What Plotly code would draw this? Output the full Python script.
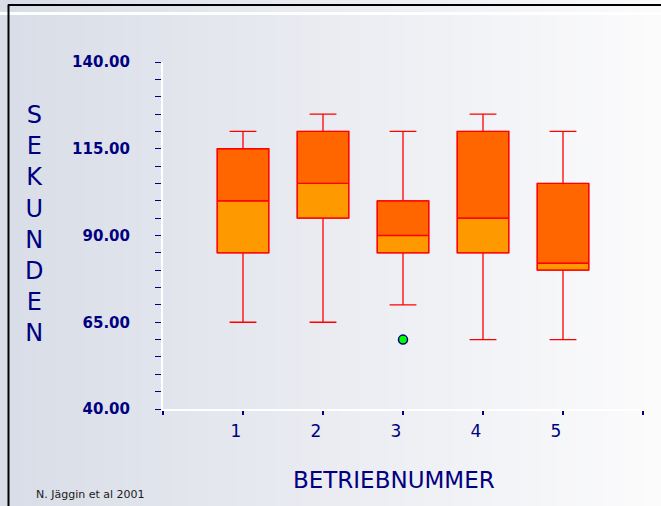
import plotly.graph_objects as go

# Box-plot statistics per farm (seconds)
betriebe = [1, 2, 3, 4, 5]
minimum = [65, 65, 70, 60, 60]
q1 = [85, 95, 85, 85, 80]
median = [100, 105, 90, 95, 82]
q3 = [115, 120, 100, 120, 105]
maximum = [120, 125, 120, 125, 120]
ausreisser_x = [3]
ausreisser_y = [60]

y_ticks = [40, 65, 90, 115, 140]

NAVY = "#000080"
W, H = 661, 506
L, R, T, B = 163, 18, 61.5, 97
pw, ph = W - L - R, H - T - B


def px_x(p):
    return (p - L) / pw


def px_y(p):
    return (H - B - p) / ph


fig = go.Figure()

# lower half of each box (Q1..median)
fig.add_trace(go.Bar(
    x=betriebe, base=q1, y=[m - a for m, a in zip(median, q1)],
    width=0.645, marker=dict(color="#FF9900", line=dict(color="#FF0000", width=1)),
    hoverinfo="skip", showlegend=False))
# upper half of each box (median..Q3)
fig.add_trace(go.Bar(
    x=betriebe, base=median, y=[b - m for b, m in zip(q3, median)],
    width=0.645, marker=dict(color="#FF6600", line=dict(color="#FF0000", width=1)),
    hoverinfo="skip", showlegend=False))
# outlines, medians and whiskers
fig.add_trace(go.Box(
    x=betriebe, q1=q1, median=median, q3=q3,
    lowerfence=minimum, upperfence=maximum,
    width=0.645, whiskerwidth=0.52, boxpoints=False,
    fillcolor="rgba(0,0,0,0)", line=dict(color="#FF0000", width=1.3),
    showlegend=False))
# outlier
fig.add_trace(go.Scatter(
    x=ausreisser_x, y=ausreisser_y, mode="markers",
    marker=dict(size=9, color="#00FF00", line=dict(color=NAVY, width=1.5)),
    showlegend=False))

# horizontal background gradient
shapes = []
n = 70
c0, c1 = (217, 221, 231), (251, 251, 252)
for i in range(n):
    t = i / (n - 1)
    col = "rgb(%d,%d,%d)" % tuple(round(a + (b - a) * t) for a, b in zip(c0, c1))
    shapes.append(dict(type="rect", xref="paper", yref="paper", layer="below",
                       x0=px_x(W * i / n), x1=px_x(W * (i + 1) / n + 0.5),
                       y0=px_y(H + 2), y1=px_y(-2), line=dict(width=0),
                       fillcolor=col))
# frame lines at the top-left
shapes.append(dict(type="line", xref="paper", yref="paper", layer="below",
                   x0=px_x(0), x1=px_x(W + 2), y0=px_y(13), y1=px_y(13),
                   line=dict(color="rgba(255,255,255,0.95)", width=3)))
shapes.append(dict(type="line", xref="paper", yref="paper", layer="below",
                   x0=px_x(8), x1=px_x(W + 2), y0=px_y(4.5), y1=px_y(4.5),
                   line=dict(color="black", width=2)))
shapes.append(dict(type="line", xref="paper", yref="paper", layer="below",
                   x0=px_x(8.5), x1=px_x(8.5), y0=px_y(4), y1=px_y(H + 2),
                   line=dict(color="black", width=2)))

annotations = [
    dict(text="<br>".join("SEKUNDEN"), xref="paper", yref="paper",
         x=px_x(34), y=px_y(224), xanchor="center", yanchor="middle",
         showarrow=False, font=dict(family="DejaVu Sans", size=24, color=NAVY)),
    dict(text="BETRIEBNUMMER", xref="paper", yref="paper",
         x=px_x(393.5), y=px_y(480), xanchor="center", yanchor="middle",
         showarrow=False, font=dict(family="DejaVu Sans", size=23, color=NAVY)),
    dict(text="N. Jäggin et al 2001", xref="paper", yref="paper",
         x=px_x(34), y=px_y(494.5), xanchor="left", yanchor="middle",
         showarrow=False, font=dict(family="DejaVu Sans", size=11, color="#1a1a1a")),
]

fig.update_layout(
    width=W, height=H,
    margin=dict(l=L, r=R, t=T, b=B, pad=0),
    paper_bgcolor="rgb(234,236,241)", plot_bgcolor="rgba(0,0,0,0)",
    barmode="overlay", showlegend=False,
    shapes=shapes, annotations=annotations,
    xaxis=dict(range=[0, 6], tickvals=[0] + betriebe + [6],
               ticktext=[""] + [str(b) for b in betriebe] + [""],
               showgrid=False, zeroline=False,
               showline=True, linecolor="white", linewidth=2,
               ticks="outside", ticklen=4, tickwidth=1.5, tickcolor=NAVY,
               ticklabelstandoff=2, ticklabelshift=-7,
               tickfont=dict(family="DejaVu Sans", size=17, color=NAVY)),
    yaxis=dict(range=[40, 140], tickvals=y_ticks, tickformat=".2f",
               showgrid=False, zeroline=False,
               showline=True, linecolor="white", linewidth=2,
               ticks="outside", ticklen=6, tickwidth=1.2, tickcolor=NAVY,
               minor=dict(dtick=5, ticks="outside", ticklen=6, tickwidth=1.2,
                          tickcolor=NAVY, showgrid=False),
               ticklabelstandoff=22,
               tickfont=dict(family="DejaVu Sans", size=15, color=NAVY,
                             weight="bold")),
)

fig.write_html("out.html")
